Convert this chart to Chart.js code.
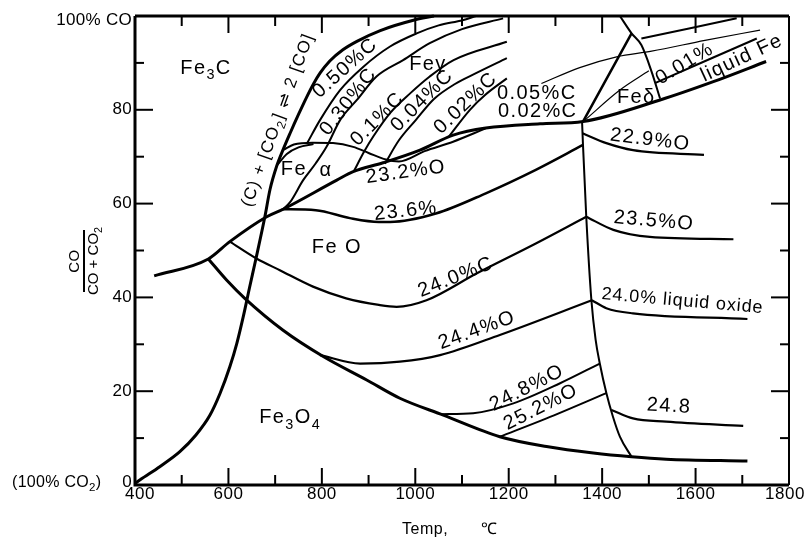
<!DOCTYPE html>
<html><head><meta charset="utf-8">
<script src="https://cdn.jsdelivr.net/npm/chart.js@4/dist/chart.umd.min.js"></script>
<style>html,body{margin:0;padding:0;background:#fff}canvas{display:block}</style>
</head><body>
<canvas id="c" width="805" height="543"></canvas>
<script>
// ---------- axis ticks ----------
const xTickValues = [400,600,800,1000,1200,1400,1600,1800];
const xTickLabels = ['400','600','800','1000','1200','1400','1600','1800'];
const yTickValues = [0,20,40,60,80,100];
const yTickLabels = ['0','20','40','60','80','100% CO'];

// ---------- curves: [temperature °C, CO/(CO+CO2) %] ----------
const boudouard = [[400,0.3],[411,1.1],[453,3.9],[496,7.1],[530,10.6],[560,14.8],[582,19.5],[603,25.2],[618,30.2],[632,36],[645,42],[659,48.3],[678,57.2],[689,63],[703,67.9],[717,71.5],[732,75],[750,79],[767,82.6],[782,85.5],[796,87.8],[817,90.4],[845,92.8],[875,94.6],[925,96.9],[996,99.1],[1040,100]];
const fan050 = [[768,72.8],[796,77.8],[839,84.2],[889,89.2],[946,93.5],[1003,96.3],[1050,98.0],[1101,99.1],[1130,100]];
const fan030 = [[717,58.8],[732,60.3],[760,65],[787,68.6],[810,72.1],[839,77.8],[875,82.1],[917,87.1],[974,90.6],[1031,94.2],[1100,97.2],[1188,99.5]];
const fan010 = [[869,67],[890,71],[910,74.3],[946,79.3],[989,83.5],[1031,87.1],[1082,90.6],[1196,94.5]];
const fan004 = [[935,68.5],[965,73.5],[1001,77.8],[1040,82.3],[1085,85.5],[1130,87.8],[1196,91]];
const fan002 = [[1072,74.3],[1117,80],[1150,83.2],[1196,86.7]];
const feAlphaTop = [[718,71.5],[740,72.6],[780,73],[824,72.9],[867,72.1],[900,70.8],[937,69.4],[965,69],[1020,71.2],[1081,73.2],[1150,76]];
const feAlphaSliver = [[705,68.3],[725,70.6],[750,72],[782,72.7]];
const feBoundary = [[441,44.6],[557,48.2],[603,51.9],[682,57.2],[717,58.8],[832,65],[867,66.8],[931,68.7],[1010,71.4],[1081,74.6],[1151,76.1],[1267,77],[1359,77.5],[1524,82.1],[1638,86],[1751,90.3]];
const thin005 = [[1270,85.6],[1352,89],[1431,91.3],[1506,92.5],[1620,94.8],[1738,97]];
const thinTriple = [[1363,77.8],[1438,84.2],[1500,88.3]];
const upperR1 = [[1484,95.2],[1688,99.5]];
const upperR3 = [[1513,85.7],[1731,95.2]];
const gammaDelta = [[1359,77.5],[1463,96.3]];
const deltaLiquid = [[1438,100],[1463,96.3],[1484,93.8],[1506,88.1],[1524,82.4]];
const line236 = [[714,58.8],[787,58.6],[860,56.9],[922,56.1],[946,56.1],[1044,57.9],[1151,62.2],[1258,67.2],[1359,72.5]];
const line240 = [[603,51.9],[660,48.3],[710,45.8],[781,42.3],[852,39.8],[922,38.4],[960,38],[1024,39.4],[1131,45.1],[1258,51.5],[1366,57.2]];
const line244 = [[796,27.7],[882,25.9],[967,26.3],[1053,27.7],[1181,32],[1378,39.4]];
const magnetiteBoundary = [[557,48.2],[596,43.7],[635,39.8],[717,33],[803,27.4],[896,22.4],[967,18.5],[1060,14.9],[1181,10.3],[1281,8.2],[1381,6.8],[1463,6],[1537,5.5],[1711,5.1]];
const line248 = [[1055,15.1],[1124,15.3],[1210,17.4],[1310,21.7],[1395,25.9]];
const line252 = [[1181,10.3],[1281,14.2],[1409,19.6]];
const meltLine = [[1357,77.5],[1359,72.5],[1366,57.2],[1377,39.4],[1386,31],[1395,25.9],[1409,19.6],[1423,14.6],[1438,10.3],[1463,6]];
const liq229 = [[1358,75],[1409,72.9],[1466,71.4],[1618,70.4]];
const liq235 = [[1366,57.2],[1424,54.4],[1502,52.9],[1681,52.4]];
const liq240 = [[1378,39.4],[1409,37.7],[1466,36.6],[1711,35.4]];
const liq248 = [[1420,16],[1466,14.2],[1537,13.5],[1702,12.6]];

// ---------- text labels (text, T, value, rotation deg) ----------
const labelTexts = ['Fe_3C','Fe_3O_4','Fe O','Fe','α','Feγ','0.50%C','0.30%C','0.1%C','0.04%C','0.02%C','0.05%C','0.02%C','Feδ','0.01%','liquid Fe','22.9%O','23.5%O','24.0% liquid oxide','24.8','23.2%O','23.6%','24.0%C','24.4%O','24.8%O','25.2%O','(C) + [CO_2] ⇌ 2 [CO]'];
const labelT =     [552, 732, 832, 740, 809, 1027, 850, 857, 919, 1015, 1108, 1260, 1262, 1473, 1577, 1699, 1503, 1511, 1572, 1543, 980, 980, 1087, 1132, 1239, 1269, 706];
const labelV =     [88.9, 14.3, 50.7, 67.2, 67, 89.6, 88.9, 81.7, 78, 82, 81.4, 83.5, 79.6, 82.7, 89.8, 91, 73.6, 56.3, 39.2, 16.8, 66.7, 58.4, 44.3, 33, 20.7, 16.6, 77.8];
const labelRot =   [0, 0, 0, 0, 0, 0, -42, -52, -45, -45, -44, 0, 0, 0, -31, -25, 7, 5, 5, 3, -8, -6, -22, -20, -27, -27, -70];

// ---------- styles ----------
const curveList = [
  [boudouard,3],[fan050,2],[fan030,2],[fan010,2],[fan004,2],[fan002,2],[feAlphaTop,2],[feAlphaSliver,2],
  [feBoundary,3],[thin005,1.2],[thinTriple,1.2],[upperR1,2],[upperR3,2],[gammaDelta,2.5],[deltaLiquid,2],
  [line236,2.5],[line240,2.2],[line244,2.2],[magnetiteBoundary,3],[line248,2],[line252,2],[meltLine,2],
  [liq229,2.2],[liq235,2.2],[liq240,2.2],[liq248,2.2]
];
const FONT = '"Liberation Sans", Arial, sans-serif';

function richParts(s){
  const parts=[];
  for(let i=0;i<s.length;i++){
    if(s[i]==='_' && i+1<s.length){parts.push({t:s[i+1],sub:true}); i++;}
    else{
      const last=parts[parts.length-1];
      if(last && !last.sub) last.t+=s[i]; else parts.push({t:s[i],sub:false});
    }
  }
  return parts;
}
function drawRich(ctx,s,x,y,size,align,rot,spacing){
  ctx.save(); ctx.translate(x,y); ctx.rotate((rot||0)*Math.PI/180);
  ctx.letterSpacing=(spacing||0)+'px';
  const parts=richParts(s); let w=0;
  parts.forEach(p=>{ctx.font=(p.sub?size*0.72:size)+'px '+FONT; p.w=ctx.measureText(p.t).width; w+=p.w;});
  let cx= align==='center'? -w/2 : align==='right'? -w : 0;
  ctx.textBaseline='middle'; ctx.textAlign='left'; ctx.fillStyle='#000';
  parts.forEach(p=>{ctx.font=(p.sub?size*0.72:size)+'px '+FONT; ctx.fillText(p.t,cx,p.sub?size*0.33:0); cx+=p.w;});
  ctx.restore();
}

const decor = {
  id:'decor',
  afterDatasetsDraw(chart){
    const ctx=chart.ctx, X=chart.scales.x, Y=chart.scales.y, ca=chart.chartArea;
    ctx.save();
    ctx.strokeStyle='#000'; ctx.lineCap='butt';
    ctx.lineWidth=2;
    for(let v=500; v<1800; v+=100){
      const px=X.getPixelForValue(v), len=(v%200===0)?17:10;
      ctx.beginPath(); ctx.moveTo(px,ca.bottom); ctx.lineTo(px,ca.bottom-len); ctx.stroke();
      ctx.beginPath(); ctx.moveTo(px,ca.top); ctx.lineTo(px,ca.top+len); ctx.stroke();
    }
    for(let v=10; v<100; v+=10){
      const py=Y.getPixelForValue(v), len=(v%20===0)?18:9;
      ctx.beginPath(); ctx.moveTo(ca.left,py); ctx.lineTo(ca.left+len,py); ctx.stroke();
      ctx.beginPath(); ctx.moveTo(ca.right,py); ctx.lineTo(ca.right-len,py); ctx.stroke();
    }
    ctx.lineWidth=3;
    ctx.beginPath(); ctx.moveTo(ca.left,ca.top); ctx.lineTo(ca.left,ca.bottom); ctx.lineTo(ca.right,ca.bottom); ctx.stroke();
    ctx.beginPath(); ctx.moveTo(ca.left,ca.top); ctx.lineTo(ca.right,ca.top); ctx.stroke();
    ctx.lineWidth=2;
    ctx.beginPath(); ctx.moveTo(ca.right,ca.top); ctx.lineTo(ca.right,ca.bottom); ctx.stroke();
    xTickValues.forEach((v,i)=>drawRich(ctx,xTickLabels[i],X.getPixelForValue(v)+(i===0?5:(i===xTickValues.length-1?-4:0)),ca.bottom+9,17,'center',0,0.5));
    yTickValues.forEach((v,i)=>drawRich(ctx,yTickLabels[i],ca.left-3,Y.getPixelForValue(v)+(v===100?4:(v===0?-3:0)),17,'right',0,0.3));
    drawRich(ctx,'(100% CO_2)',12,ca.bottom-2,16,'left',0,0.3);
    drawRich(ctx,'Temp,',402,530,16,'left',0,0.5);
    drawRich(ctx,'℃',481,530,16,'left',0,0);
    ctx.save(); ctx.translate(84,261); ctx.rotate(-Math.PI/2);
    drawRich(ctx,'CO',0,-9,15,'center',0,0.5);
    ctx.lineWidth=2; ctx.beginPath(); ctx.moveTo(-31,0); ctx.lineTo(31,0); ctx.stroke();
    drawRich(ctx,'CO + CO_2',0,10,15,'center',0,0);
    ctx.restore();
    labelTexts.forEach((t,i)=>{
      const last = i===labelTexts.length-1;
      const long = t.length>12 && !last;
      const size = last?17:(long?18:20);
      drawRich(ctx,t,X.getPixelForValue(labelT[i]),Y.getPixelForValue(labelV[i]),size,'center',labelRot[i],last?1.3:(long?0.9:1.4));
    });
    ctx.restore();
  }
};

new Chart(document.getElementById('c'),{
  type:'scatter',
  data:{datasets: curveList.map(([pts,w])=>({
    data: pts.map(p=>({x:p[0],y:p[1]})),
    showLine:true, borderColor:'#000', borderWidth:w, pointRadius:0,
    cubicInterpolationMode:'monotone', fill:false, clip:false
  }))},
  options:{
    responsive:false, animation:false, devicePixelRatio:1,
    layout:{padding:{left:135,right:16,top:16,bottom:58}},
    plugins:{legend:{display:false},tooltip:{enabled:false}},
    scales:{
      x:{type:'linear',min:400,max:1800,display:false},
      y:{type:'linear',min:0,max:100,display:false}
    }
  },
  plugins:[decor]
});
</script>
</body></html>
